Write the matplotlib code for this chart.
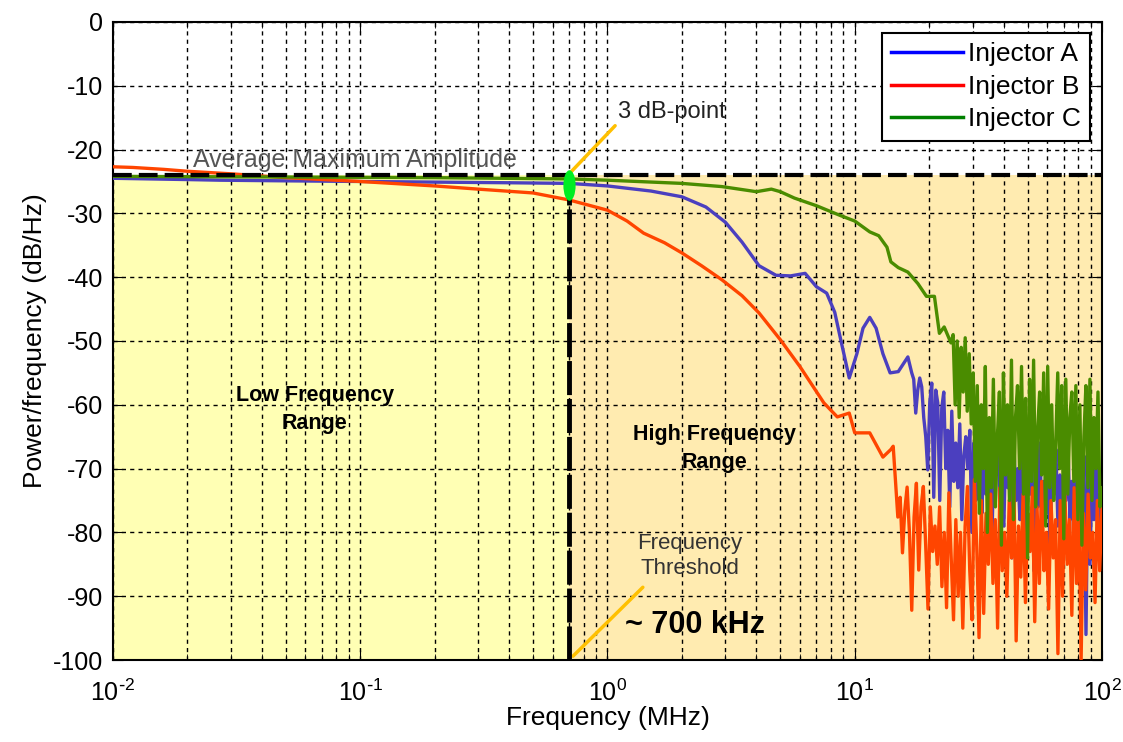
import numpy as np
import matplotlib.pyplot as plt
from matplotlib.path import Path
from matplotlib.lines import Line2D
from matplotlib.ticker import FuncFormatter

plt.rcParams['font.family'] = ['Liberation Sans', 'DejaVu Sans']
plt.rcParams['mathtext.default'] = 'regular'
plt.rcParams['axes.unicode_minus'] = False

# ---- data ----
threshold_mhz = 0.7
avg_max_db = -24.0
point_3db = -25.5

# Injector A (blue) - smooth part then noisy tail
a_freq = [0.01, 0.02, 0.027, 0.05, 0.1, 0.2, 0.4, 0.7, 1.0, 1.5, 2.0, 2.5, 3.0,
          3.5, 4.1, 4.8, 5.5, 6.3, 7.0, 7.7, 8.3, 8.8, 9.5, 10.2, 10.8, 11.5,
          12.2, 13.0, 13.9, 15.0, 16.4]
a_db = [-24.5, -24.7, -24.8, -24.9, -25.0, -25.1, -25.2, -25.3, -25.7, -26.5,
        -27.4, -29.0, -31.4, -34.5, -38.2, -39.7, -39.8, -39.4, -41.5, -42.5,
        -45.5, -50.0, -55.8, -52.0, -48.0, -46.3, -48.0, -52.0, -55.0, -54.8,
        -52.5]
a_tail_db = [-55.0, -56.0, -61.3, -57.7, -55.8, -57.2, -62.0, -65.0, -70.2, -59.7,
             -56.6, -74.5, -57.7, -59.7, -75.0, -60.5, -58.0, -70.0, -64.0, -76.0,
             -61.0, -72.0, -66.0, -73.0, -63.0, -78.0, -68.0, -65.0, -70.0, -64.0,
             -80.0, -66.0, -75.0, -72.0, -63.0, -77.0, -68.0, -74.0, -65.0, -70.0,
             -82.0, -67.0, -71.0, -64.0, -76.0, -69.0, -79.0, -65.0, -73.0, -68.0,
             -84.0, -66.0, -75.0, -70.0, -78.0, -64.0, -72.0, -81.0, -67.0, -74.0,
             -69.0, -86.0, -70.0, -76.0, -66.0, -80.0, -72.0, -77.0, -65.0, -83.0,
             -70.0, -74.0, -67.0, -79.0, -71.0, -85.0, -68.0, -75.0, -66.0, -78.0,
             -72.0, -82.0, -69.0, -76.0, -73.0, -80.0, -68.0, -96.0, -70.0, -85.0,
             -71.0, -78.0, -67.0, -84.0, -74.0, -75.0]

# Injector B (red)
b_freq = [0.01, 0.012, 0.016, 0.02, 0.03, 0.05, 0.1, 0.2, 0.3, 0.5, 0.7, 1.0,
          1.2, 1.4, 1.7, 2.0, 2.4, 2.9, 3.5, 4.1, 5.0, 6.0, 7.5, 8.5, 9.5, 10.0,
          11.5, 13.0]
b_db = [-22.7, -22.8, -23.1, -23.4, -23.8, -24.4, -25.0, -25.7, -26.2, -26.8,
        -27.9, -29.5, -31.2, -33.1, -34.6, -36.2, -38.2, -40.4, -42.9, -45.6,
        -49.8, -54.0, -59.7, -61.9, -61.3, -64.4, -64.4, -68.2]
b_tail_db = [-67.0, -66.5, -72.0, -77.6, -74.5, -83.2, -76.5, -72.9, -80.0, -92.2,
             -77.6, -72.3, -85.9, -76.0, -72.8, -82.0, -92.0, -76.0, -83.0, -79.0,
             -85.0, -76.0, -88.5, -80.0, -91.8, -73.8, -84.0, -93.7, -78.0, -90.0,
             -80.0, -95.0, -79.0, -72.8, -86.0, -93.7, -71.7, -82.0, -96.5, -75.0,
             -92.7, -77.0, -85.0, -74.0, -88.0, -78.0, -95.0, -73.0, -86.0, -80.0,
             -90.0, -75.0, -84.0, -72.0, -97.0, -79.0, -87.0, -74.0, -91.0, -77.0,
             -83.0, -73.0, -94.0, -76.0, -88.0, -72.0, -86.0, -80.0, -92.0, -75.0,
             -84.0, -78.0, -99.0, -75.0, -90.0, -74.0, -85.0, -78.0, -93.0, -73.0,
             -88.0, -76.0, -100.0, -77.0, -89.0, -74.0, -84.0, -80.0, -91.0, -75.0,
             -86.0, -76.0]

# Injector C (green)
c_freq = [0.01, 0.05, 0.2, 0.7, 1.0, 2.0, 2.9, 4.0, 4.6, 5.0, 5.7, 7.0, 8.7,
          10.0, 11.5, 12.5, 13.5, 14.0, 15.0, 16.4, 18.0, 19.5, 21.0, 22.0,
          23.0, 24.5]
c_db = [-24.2, -24.3, -24.4, -24.6, -24.8, -25.3, -25.8, -26.6, -26.2, -26.6,
        -27.6, -28.8, -30.3, -31.2, -32.9, -33.5, -35.3, -37.6, -38.5, -39.2,
        -41.0, -43.0, -43.0, -48.8, -47.8, -50.3]
c_tail_db = [-49.0, -60.0, -50.0, -62.0, -51.0, -58.0, -49.5, -61.0, -52.0, -63.0,
             -55.0, -72.0, -57.0, -77.0, -60.0, -70.0, -54.0, -80.0, -62.0, -73.0,
             -56.0, -76.0, -65.0, -58.0, -82.0, -55.0, -71.0, -60.0, -75.0, -53.0,
             -78.0, -62.0, -57.0, -70.0, -54.0, -74.0, -59.0, -84.0, -56.0, -72.0,
             -53.0, -76.0, -64.0, -58.0, -71.0, -55.0, -79.0, -54.0, -73.0, -60.0,
             -75.0, -66.0, -55.0, -70.0, -57.0, -81.0, -56.0, -74.0, -62.0, -58.0,
             -72.0, -57.0, -78.0, -60.0, -82.0, -65.0, -57.0, -73.0, -56.0, -75.0,
             -62.0, -70.0, -58.0, -76.0, -73.0]

labels = ['Injector A', 'Injector B', 'Injector C']
line_colors = ['#4b3fbf', '#ff4500', '#4a8c00']
legend_colors = ['#0000ff', '#ff0000', '#008000']

# noisy tails sampled on a log grid from the last smooth point to 100 MHz
a_f = np.concatenate([a_freq, np.geomspace(17.0, 100, len(a_tail_db))])
a_v = np.concatenate([a_db, a_tail_db])
b_f = np.concatenate([b_freq, np.geomspace(14.0, 100, len(b_tail_db))])
b_v = np.concatenate([b_db, b_tail_db])
c_f = np.concatenate([c_freq, np.geomspace(25.0, 100, len(c_tail_db))])
c_v = np.concatenate([c_db, c_tail_db])

fig = plt.figure(figsize=(11.23, 7.42), dpi=100)
ax = fig.add_axes([0.1006, 0.1105, 0.8807, 0.8599])

# shaded regions
ax.fill_between([0.01, threshold_mhz], -100, avg_max_db, color='#ffffb4', lw=0, zorder=0)
ax.fill_between([threshold_mhz, 100], -100, avg_max_db, color='#ffebb0', lw=0, zorder=0)

for f, v, c in zip([a_f, b_f, c_f], [a_v, b_v, c_v], line_colors):
    ax.plot(f, v, color=c, lw=2.4, zorder=3)

# average max amplitude + threshold lines
ax.axhline(avg_max_db, color='black', lw=3, dashes=(4.5, 1.7), zorder=4)
ax.vlines(threshold_mhz, -100, avg_max_db, color='black', lw=3.5,
          linestyles=[(0, (7, 0.8))], zorder=4)

# 3 dB point marker (tall ellipse)
circ = Path.unit_circle()
ell = Path(circ.vertices * [0.4, 1.0], circ.codes)
ax.plot([threshold_mhz], [point_3db], marker=ell, markersize=22, color='#00ee22',
        markeredgewidth=0, zorder=5)

ax.set_xscale('log')
ax.set_xlim(0.01, 100)
ax.set_ylim(-100, 0)
ax.set_yticks(np.arange(-100, 1, 10))
ax.xaxis.set_major_formatter(FuncFormatter(
    lambda v, p: '$10^{%s}$' % ('\\text{-}%d' % -round(np.log10(v)) if v < 1 else '%d' % round(np.log10(v)))))

ax.set_axisbelow('line')
ax.grid(True, which='major', axis='both', color='black', ls=(0, (3, 3)), lw=1)
ax.grid(True, which='minor', axis='x', color='black', ls=(0, (3, 3)), lw=1)
ax.tick_params(which='both', direction='in', top=True, right=True, labelsize=18)
ax.tick_params(axis='x', which='both', pad=14)
ax.tick_params(axis='y', which='both', pad=7)
ax.tick_params(which='major', length=7)
ax.tick_params(which='minor', length=4)
for s in ax.spines.values():
    s.set_linewidth(1.5)

ax.set_xlabel('Frequency (MHz)', fontsize=19, labelpad=0)
ax.set_ylabel('Power/frequency (dB/Hz)', fontsize=19, labelpad=4)

# annotations
ax.text(0.0211, -21.7, 'Average Maximum Amplitude', fontsize=18, color='#555555',
        va='center', ha='left', zorder=6)
ax.annotate('3 dB-point', xy=(threshold_mhz, -23.8), xytext=(1.1, -14.1),
            fontsize=17, color='#222222', ha='left', va='center',
            arrowprops=dict(arrowstyle='-', color='#ffc000', lw=2.5,
                            relpos=(0.02, 0.1), shrinkA=0, shrinkB=0))
ax.text(0.0656, -60.8, 'Low Frequency\nRange', fontsize=15.5, fontweight='bold',
        ha='center', va='center', linespacing=1.45)
ax.text(2.72, -66.8, 'High Frequency\nRange', fontsize=15.5, fontweight='bold',
        ha='center', va='center', linespacing=1.45)
ax.text(2.16, -83.7, 'Frequency\nThreshold', fontsize=16, color='#333333',
        ha='center', va='center', linespacing=1.3)
ax.text(1.177, -94.5, '~ 700 kHz', fontsize=22, fontweight='bold', ha='left', va='center')
ax.annotate('', xy=(0.725, -99.4), xytext=(1.39, -88.6),
            arrowprops=dict(arrowstyle='-', color='#ffc000', lw=2.5, shrinkA=0, shrinkB=0))

handles = [Line2D([], [], color=c, lw=2.5) for c in legend_colors]
leg = ax.legend(handles, labels, loc='upper right', bbox_to_anchor=(0.988, 0.983),
                fontsize=19, fancybox=False, framealpha=1, edgecolor='black',
                handlelength=2.7, borderaxespad=0, labelspacing=0.33,
                borderpad=0.35, handletextpad=0.2)
leg.get_frame().set_linewidth(1.5)
leg.set_zorder(10)

fig.savefig('out.png', dpi=100)
